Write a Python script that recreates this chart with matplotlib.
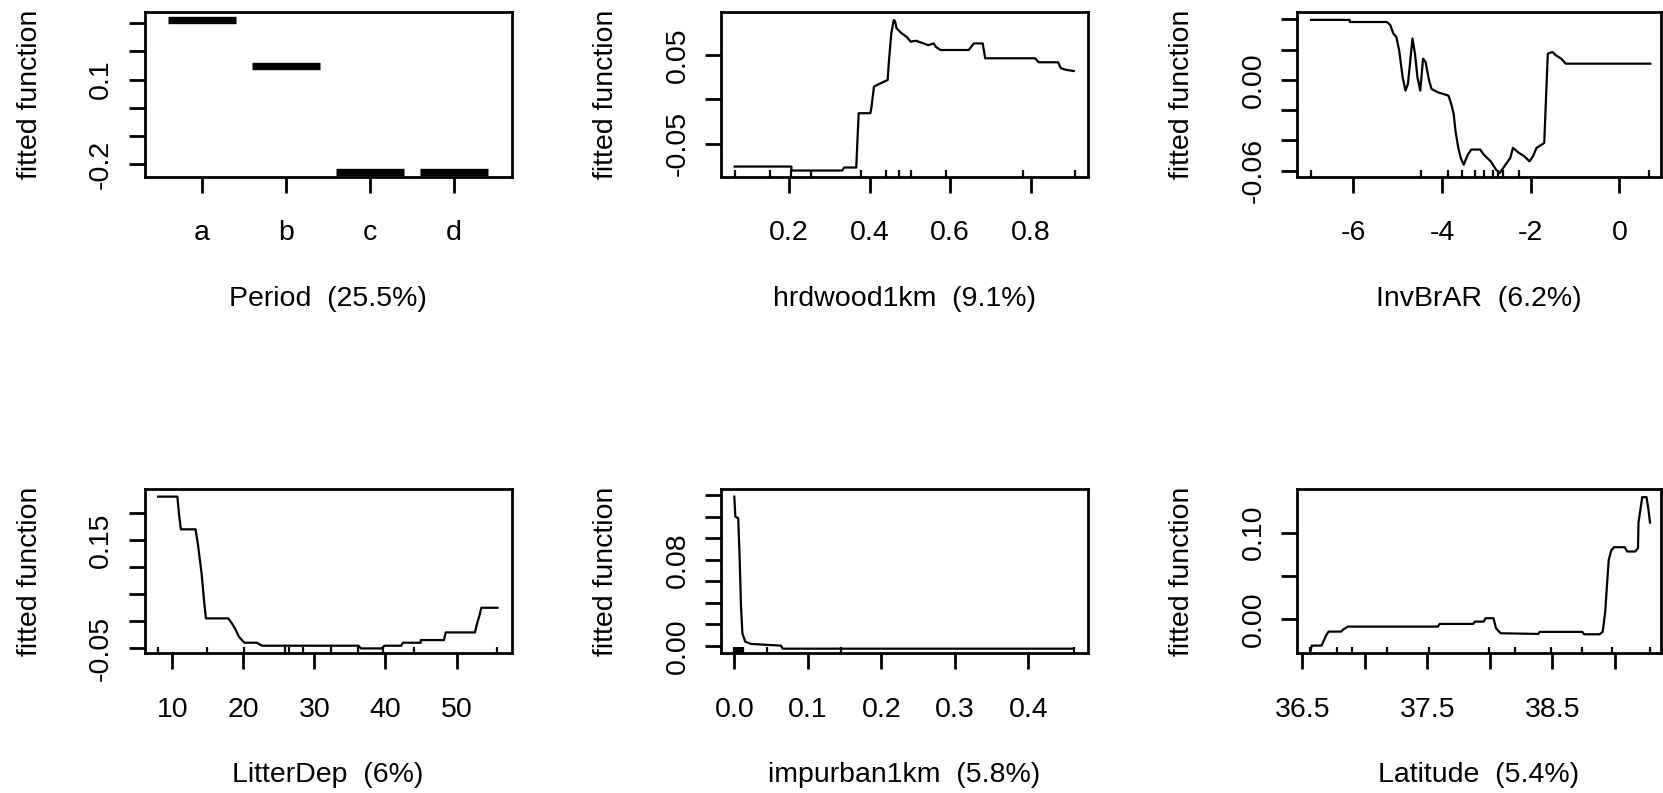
import matplotlib
matplotlib.use("Agg")
import matplotlib.pyplot as plt

plt.rcParams['font.family'] = ['Liberation Sans', 'DejaVu Sans']
FS = 20.5

# ---------------- data ----------------
period_levels = ['a', 'b', 'c', 'd']
period_values = [0.310, 0.149, -0.229, -0.229]
period_label = 'Period  (25.5%)'

hrd_x = [0.065, 0.206, 0.206, 0.332, 0.337, 0.367, 0.370, 0.373, 0.402, 0.405, 0.411, 0.419,
         0.445, 0.448, 0.454, 0.460, 0.463, 0.467, 0.480, 0.493, 0.502, 0.515, 0.528, 0.546,
         0.559, 0.565, 0.576, 0.646, 0.659, 0.681, 0.687, 0.811, 0.820, 0.868, 0.875, 0.890, 0.907]
hrd_y = [-0.0755, -0.0755, -0.0800, -0.0800, -0.0766, -0.0766, -0.0455, -0.0155, -0.0155, -0.0080,
         0.0144, 0.0163, 0.0219, 0.0425, 0.0743, 0.0893, 0.0885, 0.0800, 0.0743, 0.0700, 0.0650,
         0.0660, 0.0640, 0.0610, 0.0630, 0.0590, 0.0556, 0.0556, 0.0630, 0.0630, 0.0463, 0.0463,
         0.0418, 0.0418, 0.0350, 0.0331, 0.0320]
hrd_rug = [0.065, 0.154, 0.206, 0.254, 0.380, 0.441, 0.474, 0.502, 0.589, 0.781, 0.910]
hrd_label = 'hrdwood1km  (9.1%)'

inv_x = [-6.954, -6.08, -6.08, -5.245, -5.166, -5.10, -5.03, -4.967, -4.887, -4.824, -4.768,
         -4.665, -4.609, -4.554, -4.49, -4.427, -4.37, -4.291, -4.236, -4.093, -3.973, -3.854,
         -3.79, -3.735, -3.695, -3.632, -3.576, -3.51, -3.417, -3.338, -3.139, -3.06, -2.90,
         -2.78, -2.70, -2.62, -2.54, -2.46, -2.40, -2.265, -2.146, -2.026, -1.947, -1.867,
         -1.748, -1.693, -1.653, -1.613, -1.51, -1.43, -1.311, -1.208, 0.70]
inv_y = [0.0396, 0.0396, 0.0382, 0.0382, 0.0362, 0.0307, 0.0284, 0.0196, 0.0018, -0.0071, -0.0027,
         0.0273, 0.0173, 0.0018, -0.0071, 0.0140, 0.0118, -0.0004, -0.0060, -0.0082, -0.0093,
         -0.0104, -0.0160, -0.0227, -0.0338, -0.0449, -0.0516, -0.0560, -0.0493, -0.0460, -0.0460,
         -0.0493, -0.0538, -0.0593, -0.0616, -0.0582, -0.0549, -0.0516, -0.0449, -0.0482, -0.0504,
         -0.0538, -0.0504, -0.0449, -0.0427, -0.0416, -0.0116, 0.0173, 0.0184, 0.0162, 0.0140,
         0.0107, 0.0107]
inv_rug = [-6.954, -4.474, -3.854, -3.552, -3.258, -3.06, -2.86, -2.74, -2.62, -2.265, 0.676]
inv_label = 'InvBrAR  (6.2%)'

lit_x = [7.99, 10.70, 10.95, 11.2, 13.26, 13.61, 14.11, 14.47, 14.72, 17.88, 18.38, 18.88, 19.38,
         20.14, 21.89, 22.64, 36.19, 36.54, 39.45, 39.85, 42.21, 42.46, 44.97, 44.97, 48.23,
         48.48, 52.6, 52.9, 53.25, 53.5, 55.76]
lit_y = [0.230, 0.230, 0.196, 0.1697, 0.1697, 0.1408, 0.0885, 0.0362, 0.0054, 0.0054, -0.0038,
         -0.0149, -0.0285, -0.0395, -0.0395, -0.045, -0.045, -0.050, -0.050, -0.045, -0.045,
         -0.0395, -0.0395, -0.0346, -0.0346, -0.0205, -0.0205, -0.0038, 0.0115, 0.025, 0.025]
lit_rug = [7.99, 14.87, 20.14, 25.9, 26.4, 28.4, 32.4, 36.19, 39.7, 43.97, 55.76]
lit_label = 'LitterDep  (6%)'

imp_x = [0.0, 0.0014, 0.0053, 0.0072, 0.0091, 0.011, 0.0148, 0.0229, 0.0635, 0.0659, 0.462]
imp_y = [0.1385, 0.1200, 0.1184, 0.0828, 0.0365, 0.0117, 0.0040, 0.0019, 0.0003, -0.0025, -0.0025]
imp_rug = [0.0, 0.001, 0.002, 0.004, 0.006, 0.008, 0.010, 0.012, 0.045, 0.145, 0.462]
imp_label = 'impurban1km  (5.8%)'

lat_x = [36.565, 36.576, 36.655, 36.669, 36.689, 36.711, 36.81, 36.83, 36.866, 37.585, 37.599,
         37.867, 37.881, 37.952, 37.966, 38.03, 38.05, 38.087, 38.388, 38.40, 38.74, 38.755,
         38.88, 38.904, 38.924, 38.938, 38.952, 38.972, 38.994, 39.079, 39.10, 39.163, 39.186,
         39.19, 39.22, 39.254, 39.27, 39.282]
lat_y = [-0.0378, -0.0309, -0.0309, -0.0263, -0.0197, -0.0147, -0.0147, -0.0120, -0.0089, -0.0089,
         -0.0058, -0.0058, -0.0031, -0.0031, 0.0008, 0.0008, -0.0108, -0.0166, -0.0174, -0.0150,
         -0.0150, -0.0178, -0.0178, -0.0147, 0.0085, 0.0394, 0.0683, 0.0792, 0.0830, 0.0830,
         0.0780, 0.0780, 0.0819, 0.1116, 0.1409, 0.1409, 0.1263, 0.1116]
lat_rug = [36.565, 36.78, 36.895, 37.176, 37.515, 37.994, 38.205, 38.487, 38.74, 38.98, 39.282]
lat_label = 'Latitude  (5.4%)'

ylabel_text = 'fitted function'

# ---------------- layout ----------------
W, H = 1663, 793
fig = plt.figure(figsize=(W / 100, H / 100), dpi=100)
fig.patch.set_facecolor('white')

LW_BOX = 2.0
LW_CURVE = 1.6


def make_ax(l, r, t, b):
    ax = fig.add_axes([l / W, 1 - b / H, (r - l) / W, (b - t) / H])
    for s in ax.spines.values():
        s.set_linewidth(LW_BOX)
        s.set_color('black')
    ax.tick_params(direction='out', length=11.5, width=LW_BOX, labelsize=FS)
    ax.tick_params(axis='x', pad=20)
    ax.tick_params(axis='y', pad=10.5)
    wpx, hpx = r - l, b - t
    ax.yaxis.set_label_coords(-115 / wpx, 0.5)
    ax.xaxis.set_label_coords(0.5, -122 / hpx)
    return ax


def finish(ax, xlabel, xticks, xticklabels, yticks, yticklabels, xlim, ylim):
    ax.set_xticks(xticks)
    ax.set_xticklabels(xticklabels)
    ax.set_yticks(yticks)
    ax.set_yticklabels(yticklabels, rotation=90, va='center')
    ax.set_xlim(*xlim)
    ax.set_ylim(*ylim)
    ax.set_xlabel(xlabel, fontsize=FS, va='center')
    ax.set_ylabel(ylabel_text, fontsize=FS, va='center')


def rug(ax, xs):
    ax.vlines(xs, 0, 0.037, transform=ax.get_xaxis_transform(), color='black',
              linewidth=LW_CURVE)


top_t, top_b = 11.7, 176.5
bot_t, bot_b = 489.3, 653.3
cols = [(144.6, 511.7), (721.3, 1087.9), (1297.0, 1661.0)]

# Panel 1: Period
ax = make_ax(cols[0][0], cols[0][1], top_t, top_b)
pos = list(range(1, len(period_levels) + 1))
ax.hlines(period_values, [p - 0.41 for p in pos], [p + 0.41 for p in pos],
          color='black', linewidth=5.3)
finish(ax, period_label, pos, period_levels,
       [0.3, 0.2, 0.1, 0.0, -0.1, -0.2], ['', '', '0.1', '', '', '-0.2'],
       (0.317, 4.687), (-0.244, 0.341))

# Panel 2: hrdwood1km
ax = make_ax(cols[1][0], cols[1][1], top_t, top_b)
ax.plot(hrd_x, hrd_y, color='black', linewidth=LW_CURVE)
rug(ax, hrd_rug)
finish(ax, hrd_label, [0.2, 0.4, 0.6, 0.8], ['0.2', '0.4', '0.6', '0.8'],
       [-0.05, 0.0, 0.05], ['-0.05', '', '0.05'],
       (0.032, 0.942), (-0.0867, 0.0987))

# Panel 3: InvBrAR
ax = make_ax(cols[2][0], cols[2][1], top_t, top_b)
ax.plot(inv_x, inv_y, color='black', linewidth=LW_CURVE)
rug(ax, inv_rug)
finish(ax, inv_label, [-6, -4, -2, 0], ['-6', '-4', '-2', '0'],
       [0.04, 0.02, 0.0, -0.02, -0.04, -0.06], ['', '', '0.00', '', '', '-0.06'],
       (-7.27, 0.94), (-0.0638, 0.045))

# Panel 4: LitterDep
ax = make_ax(cols[0][0], cols[0][1], bot_t, bot_b)
ax.plot(lit_x, lit_y, color='black', linewidth=LW_CURVE)
rug(ax, lit_rug)
finish(ax, lit_label, [10, 20, 30, 40, 50], ['10', '20', '30', '40', '50'],
       [0.20, 0.15, 0.10, 0.05, 0.0, -0.05], ['', '0.15', '', '', '', '-0.05'],
       (6.09, 57.77), (-0.059, 0.2435))

# Panel 5: impurban1km
ax = make_ax(cols[1][0], cols[1][1], bot_t, bot_b)
ax.plot(imp_x, imp_y, color='black', linewidth=LW_CURVE)
rug(ax, imp_rug)
finish(ax, imp_label, [0.0, 0.1, 0.2, 0.3, 0.4], ['0.0', '0.1', '0.2', '0.3', '0.4'],
       [0.0, 0.02, 0.04, 0.06, 0.08, 0.10, 0.12, 0.14],
       ['0.00', '', '', '', '0.08', '', '', ''],
       (-0.0177, 0.481), (-0.0068, 0.1453))

# Panel 6: Latitude
ax = make_ax(cols[2][0], cols[2][1], bot_t, bot_b)
ax.plot(lat_x, lat_y, color='black', linewidth=LW_CURVE)
rug(ax, lat_rug)
finish(ax, lat_label, [36.5, 37.0, 37.5, 38.0, 38.5, 39.0],
       ['36.5', '', '37.5', '', '38.5', ''],
       [0.0, 0.05, 0.10], ['0.00', '', '0.10'],
       (36.458, 39.37), (-0.0398, 0.150))

fig.savefig('out.png', dpi=100, facecolor='white')
